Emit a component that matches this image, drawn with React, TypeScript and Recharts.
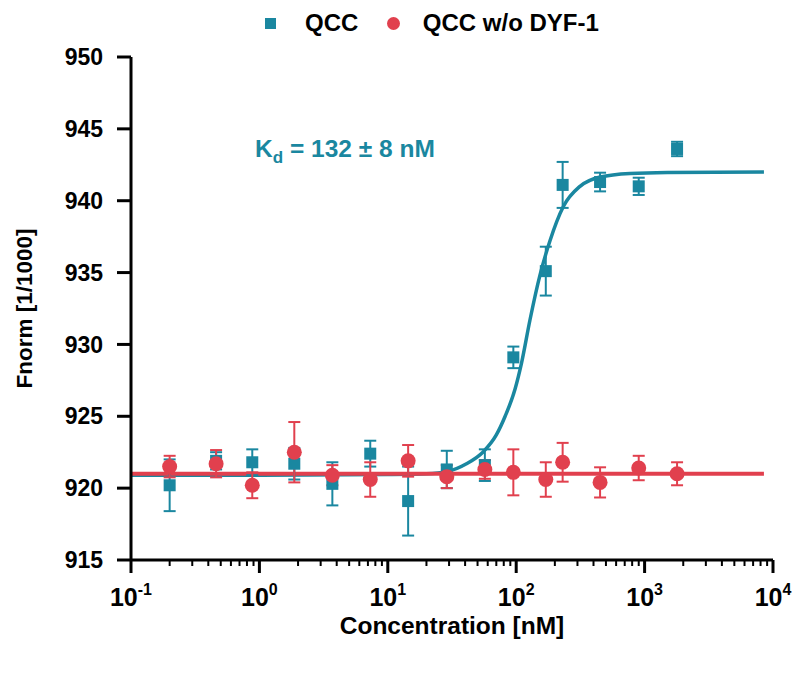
import { ComposedChart, Scatter, Line, XAxis, YAxis, ErrorBar, ReferenceDot, Label } from 'recharts'

const TEAL = '#1a87a0'
const RED = '#e1404e'
const FONT = '"Liberation Sans", Arial, sans-serif'

// concentrations of the dilution series (nM)
const concentrations = [0.2, 0.46, 0.88, 1.87, 3.7, 7.3, 14.4, 28.8, 57, 95, 170, 230, 450, 900, 1790]

// QCC
const qccValues = [920.2, 921.9, 921.8, 921.7, 920.3, 922.4, 919.1, 921.3, 921.6, 929.1, 935.1, 941.1, 941.3, 941.0, 943.6]
const qccErrors = [1.8, 0.6, 0.9, 1.1, 1.5, 0.9, 2.4, 1.3, 1.1, 0.75, 1.7, 1.6, 0.65, 0.6, 0.5]

// QCC w/o DYF-1
const ctrlValues = [921.5, 921.7, 920.2, 922.5, 920.9, 920.6, 921.9, 920.8, 921.3, 921.1, 920.6, 921.8, 920.4, 921.4, 921.0]
const ctrlErrors = [0.75, 0.95, 0.9, 2.1, 0.7, 1.2, 1.1, 0.8, 0.65, 1.6, 1.2, 1.35, 1.05, 0.85, 0.8]

// fitted curves
const fitConc = [0.1, 1, 10, 20, 28.8, 41, 55, 70, 82, 98, 110, 128, 153, 183, 233, 314, 450, 770, 1500, 8500]
const fitValues = [920.9, 920.9, 920.95, 921.0, 921.15, 921.7, 922.5, 923.7, 925.0, 926.9, 928.7, 931.7, 934.8, 937.2, 939.6, 941.0, 941.65, 941.9, 941.97, 942.0]
const ctrlFitConc = [0.1, 8500]
const ctrlFitValues = [921.0, 921.0]

const majorTicks = [0.1, 1, 10, 100, 1000, 10000]
const majorExponents = ['-1', '0', '1', '2', '3', '4']
const minorSteps = [2, 3, 4, 5, 6, 7, 8, 9]
const yTicks = [915, 920, 925, 930, 935, 940, 945, 950]

const xTicks: number[] = []
majorTicks.forEach((m, i) => {
  xTicks.push(m)
  if (i < majorTicks.length - 1) minorSteps.forEach((s) => xTicks.push(m * s))
})

const qccData = concentrations.map((x, i) => ({ x, y: qccValues[i], err: qccErrors[i] }))
const ctrlData = concentrations.map((x, i) => ({ x, y: ctrlValues[i], err: ctrlErrors[i] }))
const fitData = fitConc.map((x, i) => ({ x, y: fitValues[i] }))
const ctrlFitData = ctrlFitConc.map((x, i) => ({ x, y: ctrlFitValues[i] }))

const XTick = (props: any) => {
  const { x, y, payload } = props
  const idx = majorTicks.indexOf(payload.value)
  const major = idx >= 0
  return (
    <g>
      <line x1={x} x2={x} y1={y} y2={y + (major ? 13 : 6)} stroke="#000" strokeWidth={major ? 3 : 2} />
      {major && (
        <text x={x} y={y + 46} textAnchor="middle" fontFamily={FONT} fontWeight="bold" fontSize={25} fill="#000">
          10<tspan dy={-11} fontSize={16}>{majorExponents[idx]}</tspan>
        </text>
      )}
    </g>
  )
}

const Square = (props: any) => <rect x={props.cx - 6} y={props.cy - 6} width={12} height={12} fill={TEAL} />
const Dot = (props: any) => <circle cx={props.cx} cy={props.cy} r={7.5} fill={RED} />

const App = () => {
  return (
    <div style={{ position: 'relative', width: 792, height: 670, fontFamily: FONT }}>
      <ComposedChart width={792} height={670} margin={{ top: 49, right: 27, left: 13, bottom: 18 }}>
        <XAxis
          dataKey="x"
          type="number"
          scale="log"
          domain={[0.1, 10000]}
          allowDataOverflow
          ticks={xTicks}
          interval={0}
          tick={<XTick />}
          tickLine={false}
          tickSize={0}
          tickMargin={0}
          height={100}
          axisLine={{ stroke: '#000', strokeWidth: 3 }}
        >
          <Label
            value="Concentration [nM]"
            position="insideBottom"
            offset={26}
            style={{ fontFamily: FONT, fontWeight: 'bold', fontSize: 24.5, fill: '#000' }}
          />
        </XAxis>
        <YAxis
          dataKey="y"
          type="number"
          domain={[915, 950]}
          allowDataOverflow
          ticks={yTicks}
          interval={0}
          width={110}
          tickSize={14}
          tickMargin={14}
          tickLine={{ stroke: '#000', strokeWidth: 3 }}
          axisLine={{ stroke: '#000', strokeWidth: 3 }}
          tick={{ fill: '#000', fontSize: 23, fontWeight: 'bold', fontFamily: FONT }}
        >
          <Label
            value="Fnorm [1/1000]"
            angle={-90}
            position="insideLeft"
            offset={3}
            style={{ fontFamily: FONT, fontWeight: 'bold', fontSize: 22.5, fill: '#000', textAnchor: 'middle' }}
          />
        </YAxis>
        <Line data={fitData} dataKey="y" type="monotone" stroke={TEAL} strokeWidth={3.5} dot={false} activeDot={false} isAnimationActive={false} />
        <Line data={ctrlFitData} dataKey="y" type="linear" stroke={RED} strokeWidth={4} dot={false} activeDot={false} isAnimationActive={false} />
        <Scatter data={qccData} dataKey="y" shape={Square} isAnimationActive={false}>
          <ErrorBar dataKey="err" direction="y" width={6} strokeWidth={2} stroke={TEAL} />
        </Scatter>
        <Scatter data={ctrlData} dataKey="y" shape={Dot} isAnimationActive={false}>
          <ErrorBar dataKey="err" direction="y" width={6} strokeWidth={2} stroke={RED} />
        </Scatter>
        <ReferenceDot
          x={0.925}
          y={943.04}
          r={0}
          shape={(p: any) => (
            <text x={p.cx} y={p.cy} fill={TEAL} fontFamily={FONT} fontWeight="bold" fontSize={24.5}>
              K<tspan dy={6} fontSize={17}>d</tspan>
              <tspan dy={-6}> = 132 ± 8 nM</tspan>
            </text>
          )}
        />
      </ComposedChart>
      <div
        style={{
          position: 'absolute',
          left: 256.5,
          top: 0,
          height: 30,
          display: 'flex',
          alignItems: 'center',
          fontWeight: 'bold',
          fontSize: 24,
          color: '#000',
          whiteSpace: 'nowrap',
        }}
      >
        <span style={{ width: 11, height: 11, background: TEAL, marginRight: 29.5 }} />
        <span style={{ marginRight: 29 }}>QCC</span>
        <span style={{ width: 13, height: 13, borderRadius: '50%', background: RED, marginRight: 22.5 }} />
        <span>QCC w/o DYF-1</span>
      </div>
    </div>
  )
}

export default App
